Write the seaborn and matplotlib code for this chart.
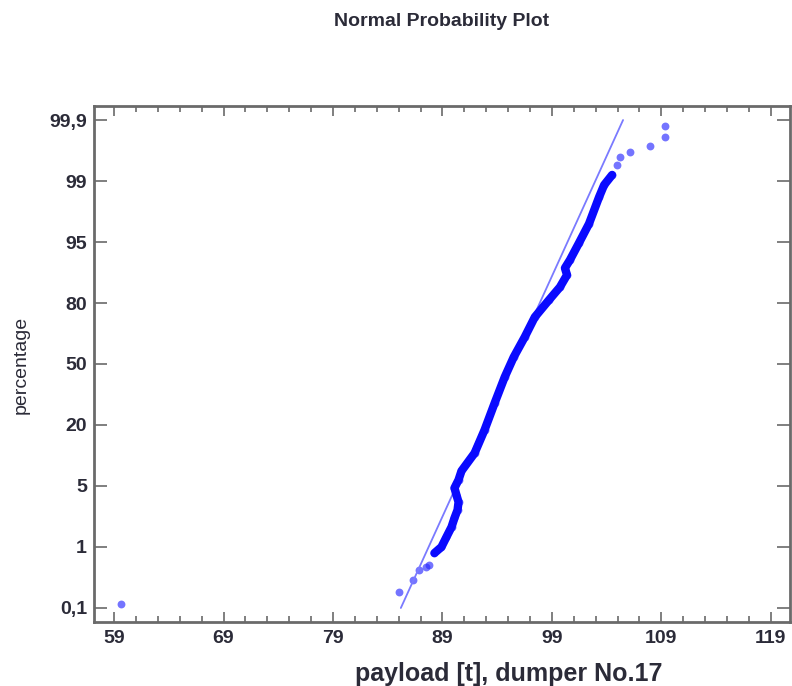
import matplotlib
matplotlib.use("Agg")
import matplotlib.pyplot as plt
import numpy as np
import pandas as pd
import seaborn as sns

# Data (payload in t, cumulative percentage)
LOW_PAYLOAD = [59.6, 85.06, 86.34, 86.89, 87.53, 87.81]
LOW_PCT = [0.16, 0.34, 0.51, 0.66, 0.70, 0.73]

BODY_PAYLOAD = [88.27, 88.91, 89.37, 89.83, 90.10, 90.38, 90.47, 90.28, 90.10,
                90.47, 90.74, 91.94, 92.85, 93.77, 94.69, 95.51, 96.52, 97.44,
                98.72, 99.73, 100.38, 100.19, 100.65, 101.48, 102.39, 103.31,
                103.77, 104.50]
BODY_PCT = [0.91, 1.0, 1.66, 2.31, 2.9, 3.43, 3.95, 4.41, 4.87,
            6.5, 8.7, 13.1, 18.8, 30.8, 43.6, 53.4, 63.3, 73.1,
            80.7, 83.9, 86.9, 88.6, 90.6, 94.8, 96.2, 97.95,
            98.74, 99.09]

HIGH_PAYLOAD = [104.96, 105.24, 106.16, 107.99, 109.37, 109.37]
HIGH_PCT = [99.24, 99.35, 99.43, 99.52, 99.65, 99.81]

# reference (fitted normal) line
FIT_PAYLOAD = [85.2, 105.5]
FIT_PCT = [0.1, 99.9]

X_TICKS = [59, 69, 79, 89, 99, 109, 119]
Y_TICKS = [0.1, 1, 5, 20, 50, 80, 95, 99, 99.9]
Y_LABELS = ["0,1", "1", "5", "20", "50", "80", "95", "99", "99,9"]

TEXT = "#2b2b38"
FRAME = "#6a6a6a"

# probability axis: labelled percentages are evenly spaced
KNOT_P = [0.0] + Y_TICKS + [100.0]
KNOT_I = list(range(-1, len(Y_TICKS) + 1))


def to_index(p):
    return np.interp(p, KNOT_P, KNOT_I)


def to_pct(i):
    return np.interp(i, KNOT_I, KNOT_P)


sns.set_style("ticks")
plt.rcParams["font.family"] = ["Liberation Sans", "DejaVu Sans"]

fig = plt.figure(figsize=(7.92, 6.86), dpi=100)
ax = fig.add_axes([94 / 792, 64 / 686, 696 / 792, 516 / 686])
ax.set_yscale("function", functions=(to_index, to_pct))

fit = pd.DataFrame({"payload": FIT_PAYLOAD, "pct": FIT_PCT})
body = pd.DataFrame({"payload": BODY_PAYLOAD, "pct": BODY_PCT})
points = pd.DataFrame({"payload": LOW_PAYLOAD + BODY_PAYLOAD + HIGH_PAYLOAD,
                       "pct": LOW_PCT + BODY_PCT + HIGH_PCT})

sns.lineplot(data=fit, x="payload", y="pct", color="#7a7aff", lw=1.3,
             estimator=None, sort=False, ax=ax)
sns.lineplot(data=body, x="payload", y="pct", color="#0a0aff", lw=6,
             estimator=None, sort=False, ax=ax, solid_capstyle="round")
sns.scatterplot(data=points, x="payload", y="pct", color="#2a2aff", s=32,
                alpha=0.65, linewidth=0, ax=ax)

ax.set_xlim(57.17, 120.75)
ax.set_ylim(to_pct(-0.23), to_pct(8.23))

ax.set_xticks(X_TICKS)
ax.set_xticks(np.arange(61, 121, 2), minor=True)
ax.set_xticklabels([str(t) for t in X_TICKS])
ax.set_yticks(Y_TICKS)
ax.set_yticklabels(Y_LABELS)
ax.yaxis.set_minor_locator(matplotlib.ticker.NullLocator())

ax.tick_params(axis="both", which="both", direction="in", colors=FRAME,
               labelcolor=TEXT, top=True, right=True, width=1.2)
ax.tick_params(axis="x", which="major", length=7, pad=6)
ax.tick_params(axis="x", which="minor", length=4)
ax.tick_params(axis="y", which="major", length=9.5, pad=5)
for lab in ax.get_xticklabels() + ax.get_yticklabels():
    lab.set_fontsize(14)
    lab.set_fontweight("bold")

for spine in ax.spines.values():
    spine.set_color(FRAME)
    spine.set_linewidth(2)

ax.set_xlabel("payload [t], dumper No.17", fontsize=18, fontweight="bold",
              color=TEXT)
ax.xaxis.set_label_coords(0.596, -0.077)
ax.set_ylabel("percentage", fontsize=14, color=TEXT)
ax.yaxis.set_label_coords(-0.093, 0.498)

fig.text(442 / 792, 1 - 22 / 686, "Normal Probability Plot", fontsize=14,
         fontweight="bold", color=TEXT, ha="center", va="center")

fig.savefig("out.png", dpi=100)
